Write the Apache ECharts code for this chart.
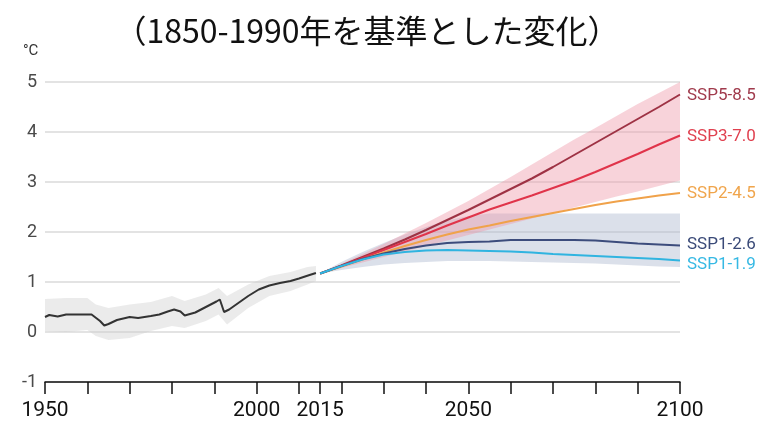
<!DOCTYPE html>
<html>
<head>
<meta charset="utf-8">
<script src="https://cdn.jsdelivr.net/npm/echarts@6/dist/echarts.min.js"></script>
<style>
  html, body { margin: 0; background: #fff; }
  #chart { width: 761px; height: 434px; }
</style>
</head>
<body>
<div id="chart"></div>
<script>
  // observed (1950-2014)
  const histYears = [1950, 1951, 1953, 1955, 1961, 1963, 1964, 1965, 1967, 1970, 1972, 1975, 1977, 1979, 1980.5, 1982, 1983, 1985.5, 1988, 1990.5, 1991.3, 1992.3, 1993.5, 1996, 1998, 2000.5, 2003, 2005.5, 2008, 2010, 2012.5, 2014]
  const histValues = [0.30, 0.34, 0.31, 0.35, 0.35, 0.22, 0.13, 0.16, 0.24, 0.30, 0.28, 0.32, 0.35, 0.41, 0.45, 0.41, 0.33, 0.39, 0.50, 0.61, 0.65, 0.40, 0.45, 0.60, 0.72, 0.85, 0.93, 0.98, 1.02, 1.07, 1.14, 1.18]
  const histBandYears = [1950, 1955, 1960, 1962, 1965, 1970, 1975, 1980, 1983, 1988, 1991, 1993, 1998, 2003, 2008, 2012, 2014]
  const histBandUpper = [0.66, 0.68, 0.68, 0.55, 0.48, 0.55, 0.60, 0.72, 0.62, 0.75, 0.88, 0.72, 0.95, 1.12, 1.20, 1.30, 1.32]
  const histBandLower = [0.02, 0.00, 0.04, -0.08, -0.16, -0.12, 0.02, 0.12, 0.08, 0.22, 0.35, 0.15, 0.48, 0.72, 0.82, 0.95, 1.02]

  // projections (2015-2100)
  const projYears = [2015, 2020, 2025, 2030, 2035, 2040, 2045, 2050, 2055, 2060, 2065, 2070, 2075, 2080, 2085, 2090, 2095, 2100]
  const ssp585 = [1.17, 1.33, 1.50, 1.67, 1.85, 2.04, 2.24, 2.44, 2.65, 2.86, 3.07, 3.30, 3.54, 3.78, 4.02, 4.26, 4.50, 4.75]
  const ssp370 = [1.17, 1.32, 1.48, 1.64, 1.80, 1.96, 2.13, 2.29, 2.45, 2.59, 2.73, 2.88, 3.03, 3.20, 3.38, 3.56, 3.75, 3.93]
  const ssp245 = [1.17, 1.31, 1.45, 1.59, 1.72, 1.84, 1.95, 2.05, 2.13, 2.22, 2.30, 2.38, 2.46, 2.54, 2.61, 2.67, 2.73, 2.78]
  const ssp126 = [1.17, 1.32, 1.46, 1.57, 1.66, 1.73, 1.78, 1.80, 1.81, 1.84, 1.84, 1.84, 1.84, 1.83, 1.80, 1.77, 1.75, 1.73]
  const ssp119 = [1.17, 1.32, 1.45, 1.55, 1.60, 1.63, 1.64, 1.63, 1.62, 1.61, 1.59, 1.56, 1.54, 1.52, 1.50, 1.48, 1.46, 1.43]
  // likely ranges
  const ssp370Upper = [1.17, 1.36, 1.56, 1.76, 1.97, 2.18, 2.40, 2.62, 2.86, 3.10, 3.35, 3.60, 3.85, 4.08, 4.32, 4.56, 4.78, 5.00]
  const ssp370Lower = [1.17, 1.28, 1.39, 1.50, 1.61, 1.72, 1.83, 1.94, 2.05, 2.16, 2.27, 2.38, 2.49, 2.60, 2.71, 2.81, 2.92, 3.03]
  const ssp126Upper = [1.17, 1.40, 1.60, 1.78, 1.95, 2.10, 2.23, 2.32, 2.37, 2.37, 2.37, 2.37, 2.37, 2.37, 2.37, 2.37, 2.37, 2.37]
  const ssp126Lower = [1.17, 1.24, 1.30, 1.35, 1.38, 1.40, 1.42, 1.42, 1.42, 1.41, 1.40, 1.39, 1.38, 1.37, 1.35, 1.33, 1.31, 1.30]

  const tickYears = [1950, 1960, 1970, 1980, 1990, 2000, 2010, 2015, 2020, 2030, 2040, 2050, 2060, 2070, 2080, 2090, 2100]
  const labelYears = [1950, 2000, 2015, 2050, 2100]

  const narrow = "'Liberation Sans Narrow', 'Roboto', sans-serif"

  const zip = (xs, ys) => xs.map((x, i) => [x, ys[i]])

  function band(xs, upper, lower, fill) {
    return {
      type: 'custom',
      silent: true,
      data: [[xs[0], upper[0]]],
      renderItem: (params, api) => {
        const pts = []
        xs.forEach((x, i) => pts.push(api.coord([x, upper[i]])))
        for (let i = xs.length - 1; i >= 0; i--) pts.push(api.coord([xs[i], lower[i]]))
        return { type: 'polygon', shape: { points: pts }, style: { fill: fill } }
      },
      z: 1,
    }
  }

  function proj(name, values, color, labelColor, offset) {
    return {
      name: name,
      type: 'line',
      data: zip(projYears, values),
      symbol: 'none',
      smooth: false,
      lineStyle: { color: color, width: 2 },
      endLabel: {
        show: true,
        formatter: name,
        color: labelColor,
        fontSize: 17,
        fontFamily: narrow,
        distance: 7,
        offset: offset,
      },
      z: 3,
    }
  }

  const chart = echarts.init(document.getElementById('chart'))
  chart.setOption({
    animation: false,
    backgroundColor: '#fff',
    title: [
      {
        text: '（1850-1990年を基準とした変化）',
        left: 362,
        top: 10,
        textAlign: 'center',
        textStyle: { fontSize: 32, fontWeight: 'normal', color: '#111', fontFamily: "'Noto Sans CJK JP', sans-serif" },
      },
      {
        text: '°C',
        left: 18,
        top: 39,
        textStyle: { fontSize: 15, fontWeight: 'normal', color: '#333', fontFamily: narrow },
      },
    ],
    grid: { left: 45, right: 81, top: 82, bottom: 52, containLabel: false },
    xAxis: {
      type: 'value',
      min: 1950,
      max: 2100,
      axisLine: { show: true, onZero: false, lineStyle: { color: '#111', width: 1.5 } },
      axisTick: { show: true, customValues: tickYears, length: 12, inside: false, lineStyle: { color: '#111', width: 1.5 } },
      axisLabel: { customValues: labelYears, formatter: (v) => String(v), color: '#111', fontSize: 21, fontFamily: narrow, margin: 18 },
      splitLine: { show: false },
    },
    yAxis: {
      type: 'value',
      min: -1,
      max: 5,
      interval: 1,
      axisLine: { show: false },
      axisTick: { show: false },
      axisLabel: { color: '#4a4a4a', fontSize: 18, fontFamily: narrow, margin: 8 },
      splitLine: { lineStyle: { color: '#dadada', width: 1.5 } },
    },
    series: [
      band(projYears, ssp126Upper, ssp126Lower, 'rgba(170,182,205,0.42)'),
      band(projYears, ssp370Upper, ssp370Lower, 'rgba(238,150,168,0.42)'),
      band(histBandYears, histBandUpper, histBandLower, 'rgba(205,205,205,0.4)'),
      {
        name: 'observed',
        type: 'line',
        data: zip(histYears, histValues),
        symbol: 'none',
        lineStyle: { color: '#333', width: 2 },
        z: 3,
      },
      proj('SSP5-8.5', ssp585, '#9e3244', '#a03a4c', [0, 1]),
      proj('SSP3-7.0', ssp370, '#e0344a', '#e0404f', [0, 1]),
      proj('SSP2-4.5', ssp245, '#f0a24a', '#f0a54c', [0, 1]),
      proj('SSP1-2.6', ssp126, '#3c4c7c', '#3a4a78', [0, -1]),
      proj('SSP1-1.9', ssp119, '#30b4e0', '#36b9e4', [0, 4]),
    ],
  })
</script>
</body>
</html>
